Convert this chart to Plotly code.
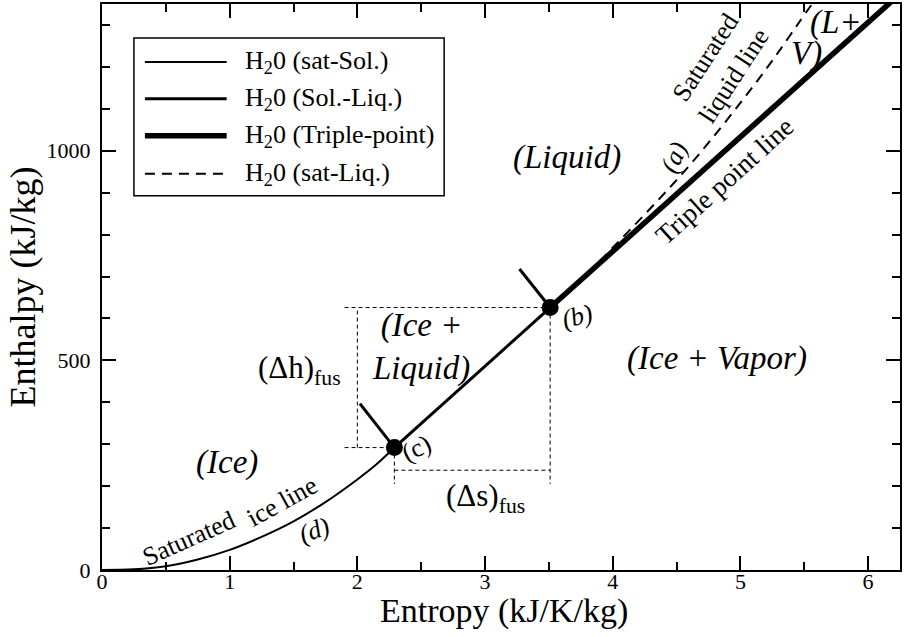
import plotly.graph_objects as go

# ---------------- data ----------------
# Saturated ice line (sat-Sol.)
ice_s = [0.0, 0.25, 0.5, 0.75, 1.0, 1.25, 1.5, 1.75, 2.0, 2.15, 2.29]
ice_h = [0.0, 1.5, 9.0, 25.0, 48.0, 79.0, 116.0, 162.0, 216.0, 252.0, 292.0]

# Solid-liquid lines (short lines at c and b, plus c -> b)
sl_s = [2.02, 2.29, None, 2.29, 3.51, None, 3.27, 3.51]
sl_h = [397.0, 292.0, None, 292.0, 626.0, None, 718.0, 626.0]

# Triple-point line (from b upward)
tp_s = [3.51, 6.30]
tp_h = [626.0, 1388.0]

# Saturated liquid line
liq_s = [3.51, 3.81, 4.08, 4.34, 4.59, 4.82, 5.04, 5.25, 5.45, 5.60]
liq_h = [626.0, 710.0, 794.0, 877.0, 961.0, 1045.0, 1130.0, 1215.0, 1302.0, 1367.0]

# Points (c) and (b)
pt_s = [2.29, 3.51]
pt_h = [292.0, 626.0]

# Dimension (dashed) lines for (Δh)fus and (Δs)fus
dim_s = [1.90, 3.51, None, 1.90, 2.29, None, 2.00, 2.00, None,
         2.29, 2.29, None, 3.51, 3.51, None, 2.29, 3.51]
dim_h = [626.0, 626.0, None, 292.0, 292.0, None, 292.0, 626.0, None,
         292.0, 205.0, None, 626.0, 205.0, None, 238.0, 238.0]

x_ticks = [0, 1, 2, 3, 4, 5, 6]
y_ticks = [0, 500, 1000]

legend_names = ["H<sub>2</sub>0 (sat-Sol.)", "H<sub>2</sub>0 (Sol.-Liq.)",
                "H<sub>2</sub>0 (Triple-point)", "H<sub>2</sub>0 (sat-Liq.)"]

FONT = "Liberation Serif, Times New Roman, serif"

fig = go.Figure()
fig.add_trace(go.Scatter(x=dim_s, y=dim_h, mode="lines", showlegend=False,
                         line=dict(color="black", width=1, dash="4px,3px"),
                         hoverinfo="skip"))
fig.add_trace(go.Scatter(x=ice_s, y=ice_h, mode="lines", name=legend_names[0],
                         line=dict(color="black", width=2, shape="spline"), showlegend=False))
fig.add_trace(go.Scatter(x=sl_s, y=sl_h, mode="lines", name=legend_names[1],
                         line=dict(color="black", width=3), showlegend=False))
fig.add_trace(go.Scatter(x=tp_s, y=tp_h, mode="lines", name=legend_names[2],
                         line=dict(color="black", width=5.5), showlegend=False))
fig.add_trace(go.Scatter(x=liq_s, y=liq_h, mode="lines", name=legend_names[3],
                         line=dict(color="black", width=2, dash="10px,7px", shape="spline"),
                         showlegend=False))
fig.add_trace(go.Scatter(x=pt_s, y=pt_h, mode="markers", showlegend=False,
                         marker=dict(color="black", size=17)))

# ---------------- custom legend ----------------
L, R, T, B = 102, 902, 3, 570
def px(x):
    return (x - L) / (R - L)
def py(y):
    return (B - y) / (B - T)

shapes = [dict(type="rect", xref="paper", yref="paper",
               x0=px(134), x1=px(445), y0=py(195), y1=py(37),
               line=dict(color="black", width=1.5), fillcolor="white", layer="above")]
leg_y = [61, 98, 135, 173]
leg_w = [2, 3, 5.5, 2]
leg_dash = ["solid", "solid", "solid", "10px,7px"]
annotations = []
for name, yy, w, d in zip(legend_names, leg_y, leg_w, leg_dash):
    shapes.append(dict(type="line", xref="paper", yref="paper",
                       x0=px(145), x1=px(227), y0=py(yy), y1=py(yy),
                       line=dict(color="black", width=w, dash=d), layer="above"))
    annotations.append(dict(xref="paper", yref="paper", x=px(243), y=py(yy),
                            text=name, showarrow=False, xanchor="left", yanchor="middle",
                            font=dict(family=FONT, size=26, color="black")))

def ann(text, x, y, size, angle=0):
    annotations.append(dict(x=x, y=y, xref="x", yref="y", text=text, showarrow=False,
                            textangle=angle, xanchor="center", yanchor="middle",
                            font=dict(family=FONT, size=size, color="black")))

ann("<i>(Liquid)</i>", 3.64, 984, 33)
ann("<i>(Ice +</i><br><i>Liquid)</i>", 2.50, 531, 33)
ann("<i>(Ice + Vapor)</i>", 4.82, 505, 33)
ann("<i>(Ice)</i>", 0.98, 257, 33)
ann("<i>(L+</i>", 5.75, 1305, 33)
ann("<i>V)</i>", 5.52, 1233, 33)
ann("<i>(a)</i>", 4.48, 984, 26, -65)
ann("<i>(b)</i>", 3.72, 605, 26, -15)
ann("(c)", 2.46, 290, 26, -25)
ann("<i>(d)</i>", 1.66, 95, 26, -20)
ann("Saturated", 0.68, 74, 26, -24)
ann("ice line", 1.41, 164, 26, -29)
ann("Saturated<br>liquid line", 4.84, 1200, 26, -57)
ann("Triple point line", 4.875, 929, 27, -42)
ann("(Δh)<sub>fus</sub>", 1.55, 476, 31)
ann("(Δs)<sub>fus</sub>", 3.00, 171, 31)

# x-axis title placed just below the tick labels, as in the reference
annotations.append(dict(xref="paper", yref="paper", x=px(505), y=py(611),
                        text="Entropy (kJ/K/kg)", showarrow=False,
                        xanchor="center", yanchor="middle",
                        font=dict(family=FONT, size=34, color="black")))

axis_common = dict(showline=True, linecolor="black", linewidth=2, mirror="ticks",
                   ticks="inside", ticklen=14, tickwidth=1.5, tickcolor="black",
                   showgrid=False, zeroline=False,
                   tickfont=dict(family=FONT, size=22, color="black"))

fig.update_layout(
    width=904, height=637,
    margin=dict(l=L, r=904 - R, t=T, b=637 - B),
    plot_bgcolor="white", paper_bgcolor="white",
    showlegend=False,
    xaxis=dict(range=[0, 6.25], tickvals=x_ticks, ticklabelstandoff=-9,
               minor=dict(dtick=0.5, ticks="inside", ticklen=8, tickwidth=1.5, tickcolor="black"),
               **axis_common),
    yaxis=dict(range=[0, 1350], tickvals=y_ticks, ticklabelstandoff=5,
               minor=dict(dtick=100, ticks="inside", ticklen=8, tickwidth=1.5, tickcolor="black"),
               title=dict(text="Enthalpy (kJ/kg)", font=dict(family=FONT, size=36, color="black"),
                          standoff=0),
               **axis_common),
    shapes=shapes,
    annotations=annotations,
)

fig.write_html("out.html", config={"displayModeBar": False},
               post_script="document.body.style.margin='0px';")
